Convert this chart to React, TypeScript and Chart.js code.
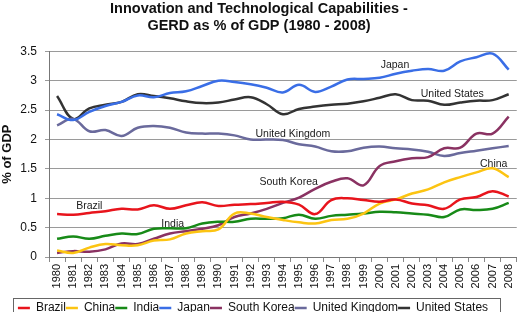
import React, { useEffect, useRef } from "react";
import { Chart, registerables } from "chart.js";

Chart.register(...registerables);

const years = [
  "1980","1981","1982","1983","1984","1985","1986","1987","1988","1989",
  "1990","1991","1992","1993","1994","1995","1996","1997","1998","1999",
  "2000","2001","2002","2003","2004","2005","2006","2007","2008",
];

const brazil = [0.73,0.72,0.75,0.78,0.82,0.81,0.88,0.82,0.88,0.93,0.87,0.89,0.90,0.92,0.94,0.89,0.73,0.97,1.00,0.97,0.94,0.98,0.91,0.88,0.82,0.98,1.02,1.12,1.03];
const china = [0.11,0.07,0.16,0.22,0.20,0.20,0.28,0.30,0.40,0.44,0.47,0.74,0.74,0.68,0.63,0.59,0.57,0.63,0.65,0.74,0.91,0.98,1.08,1.15,1.27,1.36,1.44,1.51,1.36];
const india = [0.31,0.35,0.31,0.36,0.40,0.39,0.48,0.49,0.49,0.57,0.60,0.60,0.65,0.65,0.66,0.72,0.65,0.70,0.72,0.74,0.77,0.76,0.74,0.72,0.68,0.81,0.80,0.82,0.92];
const japan = [2.43,2.33,2.47,2.57,2.64,2.75,2.72,2.79,2.82,2.91,3.00,2.98,2.94,2.88,2.80,2.93,2.81,2.90,3.02,3.03,3.05,3.12,3.17,3.20,3.17,3.33,3.40,3.46,3.19];
const southKorea = [0.07,0.10,0.09,0.13,0.23,0.22,0.31,0.40,0.44,0.48,0.54,0.68,0.74,0.82,0.92,1.01,1.16,1.28,1.34,1.22,1.55,1.63,1.68,1.70,1.85,1.86,2.10,2.10,2.39];
const unitedKingdom = [2.24,2.35,2.14,2.16,2.06,2.20,2.23,2.20,2.12,2.10,2.10,2.07,2.00,2.00,1.99,1.92,1.88,1.80,1.80,1.86,1.88,1.85,1.83,1.79,1.72,1.77,1.81,1.85,1.89];
const unitedStates = [2.74,2.35,2.53,2.59,2.64,2.77,2.74,2.70,2.65,2.62,2.63,2.68,2.72,2.60,2.43,2.52,2.56,2.59,2.61,2.65,2.71,2.77,2.67,2.66,2.59,2.63,2.66,2.67,2.77];

const seriesNames = ["Brazil","China","India","Japan","South Korea","United Kingdom","United States"];
const seriesColors = ["#e8141c","#fcc412","#178a17","#3a6ee6","#8a3262","#6a6a9c","#333333"];
const seriesValues = [brazil, china, india, japan, southKorea, unitedKingdom, unitedStates];

const titleLines = ["Innovation and Technological Capabilities -", "GERD as % of GDP (1980 - 2008)"];
const yTitle = "% of GDP";

// Series name annotations, anchored in data coordinates (category index, value)
const seriesNotes = [
  { text: "Japan", at: 20.95, value: 3.27 },
  { text: "United States", at: 24.5, value: 2.77 },
  { text: "United Kingdom", at: 14.62, value: 2.1 },
  { text: "South Korea", at: 14.36, value: 1.27 },
  { text: "China", at: 27.07, value: 1.58 },
  { text: "Brazil", at: 2.0, value: 0.86 },
  { text: "India", at: 7.17, value: 0.56 },
];

const FONT = "'Liberation Sans', Arial, Helvetica, sans-serif";

const notesPlugin = {
  id: "seriesNotes",
  afterDatasetsDraw(chart: any) {
    const { ctx, scales } = chart;
    ctx.save();
    ctx.font = `10.5px ${FONT}`;
    ctx.fillStyle = "#1a1a1a";
    ctx.textAlign = "center";
    ctx.textBaseline = "middle";
    for (const n of seriesNotes) {
      ctx.fillText(n.text, scales.x.getPixelForValue(n.at), scales.y.getPixelForValue(n.value));
    }
    ctx.restore();
  },
};

const legendFramePlugin = {
  id: "legendFrame",
  afterLayout(chart: any) {
    const lg = chart.legend;
    if (lg) {
      lg.top += 12;
      lg.bottom += 12;
      lg.left -= 6;
      lg.right -= 6;
    }
  },
  afterDraw(chart: any) {
    const lg = chart.legend;
    if (!lg || !lg.lineWidths) return;
    const ctx = chart.ctx;
    const lw = lg.lineWidths[0];
    const start = (lg.left + lg.right - lw) / 2;
    ctx.save();
    ctx.strokeStyle = "#666";
    ctx.lineWidth = 1;
    ctx.strokeRect(Math.round(start) - 4.5, Math.round(lg.top) - 3.5, Math.round(lw) + 17, 30);
    ctx.restore();
  },
};

export default function App() {
  const ref = useRef<HTMLCanvasElement | null>(null);

  useEffect(() => {
    document.body.style.margin = "0";
    Chart.defaults.font.family = FONT;
    Chart.defaults.color = "#111";
    const canvas = ref.current;
    if (!canvas) return;
    const chart = new Chart(canvas, {
      type: "line",
      data: {
        labels: years,
        datasets: seriesNames.map((name, i) => ({
          label: name,
          data: seriesValues[i],
          borderColor: seriesColors[i],
          backgroundColor: seriesColors[i],
          borderWidth: 2.5,
          pointRadius: 0,
          tension: 0.4,
          fill: false,
        })),
      },
      options: {
        responsive: false,
        animation: false,
        devicePixelRatio: 1,
        layout: { padding: { left: 0, right: 6, top: 0, bottom: 0 } },
        plugins: {
          title: {
            display: true,
            text: titleLines,
            color: "#111",
            font: { family: FONT, size: 14.5, weight: "bold", lineHeight: 1.15 },
            padding: { top: 1, bottom: 17 },
          },
          legend: {
            position: "bottom",
            labels: {
              usePointStyle: true,
              pointStyle: "line",
              pointStyleWidth: 12,
              boxHeight: 12,
              padding: 0,
              color: "#111",
              font: { family: FONT, size: 12 },
            },
          },
          tooltip: { enabled: false },
        },
        scales: {
          x: {
            offset: true,
            grid: { drawOnChartArea: false, drawTicks: true, tickLength: 5, color: "#888", offset: true },
            border: { color: "#777" },
            ticks: { minRotation: 90, maxRotation: 90, autoSkip: false, padding: 2, color: "#111", font: { family: FONT, size: 11 } },
            afterFit: (s: any) => { s.height = 33; },
          },
          y: {
            min: 0,
            max: 3.5,
            ticks: { stepSize: 0.5, padding: 8, color: "#111", font: { family: FONT, size: 12 }, callback: (v: any) => String(Number(v)) },
            grid: { color: "#9a9a9a", tickLength: 4 },
            border: { color: "#777" },
            title: { display: true, text: yTitle, color: "#111", font: { family: FONT, size: 13, weight: "bold" }, padding: 0 },
            afterFit: (s: any) => { s.width = 49; },
          },
        },
      },
      plugins: [notesPlugin, legendFramePlugin],
    });
    return () => chart.destroy();
  }, []);

  return (
    <div style={{ width: 524, height: 312, position: "relative" }}>
      <canvas ref={ref} width={524} height={312} style={{ display: "block" }} />
    </div>
  );
}
